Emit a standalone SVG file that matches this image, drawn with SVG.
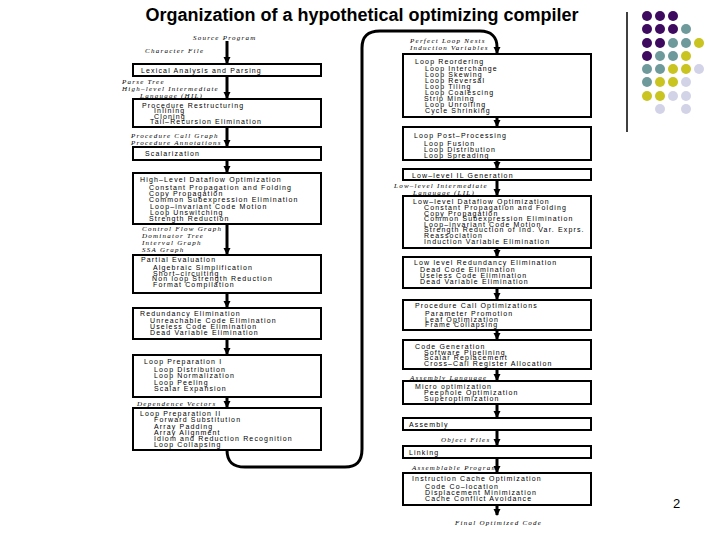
<svg xmlns="http://www.w3.org/2000/svg" width="720" height="540" viewBox="0 0 720 540">
<style>
.bx{fill:#fff;stroke:#000;stroke-width:2}
.t{font-family:"Liberation Sans",Arial,sans-serif;font-size:7px;letter-spacing:1.15px;fill:#000}
.i{font-family:"Liberation Serif","Times New Roman",serif;font-style:italic;font-size:7px;letter-spacing:1.25px;fill:#000}
.ln{fill:none;stroke:#000;stroke-width:3}
.title{font-family:"Liberation Sans",Arial,sans-serif;font-size:18px;font-weight:bold;fill:#000}
.p{fill:#3d0a60}.g{fill:#6f9a9c}.y{fill:#c9c41f}.l{fill:#d3d3e8}
</style>
<defs>
<marker id="ah" markerUnits="userSpaceOnUse" markerWidth="8" markerHeight="8" refX="6" refY="3.5" orient="auto">
<path d="M0,0 L7,3.5 L0,7 z" fill="#000"/>
</marker>
</defs>
<rect width="720" height="540" fill="#fff"/>
<text class="title" x="362" y="21" text-anchor="middle">Organization of a hypothetical optimizing compiler</text>

<g id="decor">
<line x1="627" y1="12" x2="627" y2="132" stroke="#000" stroke-width="1.5"/>
<circle class="p" cx="647" cy="16" r="5"/><circle class="p" cx="660" cy="16" r="5"/><circle class="p" cx="673" cy="16" r="5"/>
<circle class="p" cx="647" cy="29" r="5"/><circle class="p" cx="660" cy="29" r="5"/><circle class="p" cx="673" cy="29" r="5"/><circle class="g" cx="686" cy="29" r="5"/>
<circle class="p" cx="647" cy="43" r="5"/><circle class="p" cx="660" cy="43" r="5"/><circle class="g" cx="673" cy="43" r="5"/><circle class="g" cx="686" cy="43" r="5"/><circle class="y" cx="699" cy="43" r="5"/>
<circle class="p" cx="647" cy="56" r="5"/><circle class="g" cx="660" cy="56" r="5"/><circle class="g" cx="673" cy="56" r="5"/><circle class="y" cx="686" cy="56" r="5"/>
<circle class="g" cx="647" cy="69" r="5"/><circle class="g" cx="660" cy="69" r="5"/><circle class="y" cx="673" cy="69" r="5"/><circle class="y" cx="686" cy="69" r="5"/><circle class="l" cx="699" cy="69" r="5"/>
<circle class="g" cx="647" cy="82" r="5"/><circle class="y" cx="660" cy="82" r="5"/><circle class="y" cx="673" cy="82" r="5"/><circle class="l" cx="686" cy="82" r="5"/>
<circle class="y" cx="647" cy="96" r="5"/><circle class="y" cx="660" cy="96" r="5"/><circle class="l" cx="673" cy="96" r="5"/><circle class="l" cx="686" cy="96" r="5"/>
<circle class="l" cx="660" cy="109" r="5"/><circle class="l" cx="686" cy="109" r="5"/>
</g>

<g id="connectors">
<line class="ln" x1="227" y1="41" x2="227" y2="63" marker-end="url(#ah)"/>
<line class="ln" x1="227" y1="76" x2="227" y2="98" marker-end="url(#ah)"/>
<line class="ln" x1="227" y1="127" x2="227" y2="146" marker-end="url(#ah)"/>
<line class="ln" x1="227" y1="160" x2="227" y2="172" marker-end="url(#ah)"/>
<line class="ln" x1="227" y1="224" x2="227" y2="254" marker-end="url(#ah)"/>
<line class="ln" x1="227" y1="293" x2="227" y2="307" marker-end="url(#ah)"/>
<line class="ln" x1="227" y1="339" x2="227" y2="354" marker-end="url(#ah)"/>
<line class="ln" x1="227" y1="397" x2="227" y2="407" marker-end="url(#ah)"/>
<path class="ln" d="M227,450 C227,462 233,467 245,467 L345,467 C357,467 362,461 362,449 L362,48 C362,37 367,31 380,31 L480,31 C491,31 497,37 497,47 L497,53" marker-end="url(#ah)"/>
<line class="ln" x1="497" y1="117" x2="497" y2="126" marker-end="url(#ah)"/>
<line class="ln" x1="497" y1="160" x2="497" y2="168" marker-end="url(#ah)"/>
<line class="ln" x1="497" y1="180" x2="497" y2="195" marker-end="url(#ah)"/>
<line class="ln" x1="497" y1="248" x2="497" y2="256" marker-end="url(#ah)"/>
<line class="ln" x1="497" y1="288" x2="497" y2="299" marker-end="url(#ah)"/>
<line class="ln" x1="497" y1="330" x2="497" y2="339" marker-end="url(#ah)"/>
<line class="ln" x1="497" y1="369" x2="497" y2="380" marker-end="url(#ah)"/>
<line class="ln" x1="497" y1="404" x2="497" y2="417" marker-end="url(#ah)"/>
<line class="ln" x1="497" y1="430" x2="497" y2="445" marker-end="url(#ah)"/>
<line class="ln" x1="497" y1="458" x2="497" y2="472" marker-end="url(#ah)"/>
<line class="ln" x1="497" y1="505" x2="497" y2="515" marker-end="url(#ah)"/>
</g>

<g id="labels">
<text class="i" x="193" y="40">Source Program</text>
<text class="i" x="145" y="53">Character File</text>
<text class="i" x="122" y="83.5">Parse Tree</text>
<text class="i" x="122" y="90.5">High–level Intermediate</text>
<text class="i" x="140" y="97.5">Language (HIL)</text>
<text class="i" x="131" y="137.5">Procedure Call Graph</text>
<text class="i" x="131" y="144.5">Procedure Annotations</text>
<text class="i" x="142" y="231">Control Flow Graph</text>
<text class="i" x="142" y="238">Dominator Tree</text>
<text class="i" x="142" y="245">Interval Graph</text>
<text class="i" x="142" y="252">SSA Graph</text>
<text class="i" x="137" y="405.5">Dependence Vectors</text>
<text class="i" x="410" y="42.5">Perfect Loop Nests</text>
<text class="i" x="410" y="49.5">Induction Variables</text>
<text class="i" x="394" y="188">Low–level Intermediate</text>
<text class="i" x="413" y="194.5">Language (LIL)</text>
<text class="i" x="410" y="380">Assembly Language</text>
<text class="i" x="441" y="441.5">Object Files</text>
<text class="i" x="412" y="470">Assemblable Program</text>
<text class="i" x="455" y="525">Final Optimized Code</text>
</g>

<g id="lexical">
<rect class="bx" x="133" y="64" width="188" height="12"/>
<text class="t" x="141" y="73">Lexical Analysis and Parsing</text>
</g>
<g id="proc-restructuring">
<rect class="bx" x="133" y="99" width="188" height="28"/>
<text class="t" x="142" y="107.5">Procedure Restructuring</text>
<text class="t" x="154" y="113">Inlining</text>
<text class="t" x="154" y="118.5">Cloning</text>
<text class="t" x="150" y="124">Tail–Recursion Elimination</text>
</g>
<g id="scalarization">
<rect class="bx" x="133" y="147" width="188" height="13"/>
<text class="t" x="145" y="156">Scalarization</text>
</g>
<g id="hl-dataflow">
<rect class="bx" x="133" y="173" width="188" height="51"/>
<text class="t" x="140" y="181.5">High–Level Dataflow Optimization</text>
<text class="t" x="149" y="189.5">Constant Propagation and Folding</text>
<text class="t" x="149" y="196">Copy Propagation</text>
<text class="t" x="149" y="202">Common Subexpression Elimination</text>
<text class="t" x="150" y="208.5">Loop–invariant Code Motion</text>
<text class="t" x="150" y="214.5">Loop Unswitching</text>
<text class="t" x="149" y="220.5">Strength Reduction</text>
</g>
<g id="partial-eval">
<rect class="bx" x="133" y="255" width="188" height="38"/>
<text class="t" x="141" y="262">Partial Evaluation</text>
<text class="t" x="153" y="270">Algebraic Simplification</text>
<text class="t" x="153" y="275.5">Short–circuiting</text>
<text class="t" x="152" y="281">Non loop Strength Reduction</text>
<text class="t" x="153" y="287">Format Compilation</text>
</g>
<g id="redundancy">
<rect class="bx" x="133" y="308" width="188" height="31"/>
<text class="t" x="140" y="316">Redundancy Elimination</text>
<text class="t" x="150" y="323">Unreachable Code Elimination</text>
<text class="t" x="150" y="329">Useless Code Elimination</text>
<text class="t" x="150" y="335">Dead Variable Elimination</text>
</g>
<g id="loop-prep-1">
<rect class="bx" x="133" y="355" width="188" height="42"/>
<text class="t" x="144" y="364">Loop Preparation I</text>
<text class="t" x="154" y="371.5">Loop Distribution</text>
<text class="t" x="154" y="378">Loop Normalization</text>
<text class="t" x="154" y="384.5">Loop Peeling</text>
<text class="t" x="154" y="391">Scalar Expansion</text>
</g>
<g id="loop-prep-2">
<rect class="bx" x="133" y="408" width="188" height="42"/>
<text class="t" x="140" y="415.5">Loop Preparation II</text>
<text class="t" x="154" y="422">Forward Substitution</text>
<text class="t" x="154" y="428.5">Array Padding</text>
<text class="t" x="154" y="434.5">Array Alignment</text>
<text class="t" x="154" y="440.5">Idiom and Reduction Recognition</text>
<text class="t" x="154" y="447">Loop Collapsing</text>
</g>

<g id="loop-reordering">
<rect class="bx" x="403" y="54" width="188" height="63"/>
<text class="t" x="415" y="63.5">Loop Reordering</text>
<text class="t" x="425" y="70.5">Loop Interchange</text>
<text class="t" x="425" y="76.5">Loop Skewing</text>
<text class="t" x="425" y="82.5">Loop Reversal</text>
<text class="t" x="425" y="88.5">Loop Tiling</text>
<text class="t" x="425" y="94.5">Loop Coalescing</text>
<text class="t" x="424" y="100.5">Strip Mining</text>
<text class="t" x="425" y="106.5">Loop Unrolling</text>
<text class="t" x="425" y="112.5">Cycle Shrinking</text>
</g>
<g id="loop-post">
<rect class="bx" x="403" y="127" width="188" height="33"/>
<text class="t" x="414" y="137.5">Loop Post–Processing</text>
<text class="t" x="424" y="145.5">Loop Fusion</text>
<text class="t" x="424" y="151.5">Loop Distribution</text>
<text class="t" x="424" y="157.5">Loop Spreading</text>
</g>
<g id="lil-gen">
<rect class="bx" x="403" y="169" width="188" height="11"/>
<text class="t" x="412" y="177.5">Low–level IL Generation</text>
</g>
<g id="ll-dataflow">
<rect class="bx" x="403" y="196" width="188" height="52"/>
<text class="t" x="413" y="203.5">Low–level Dataflow Optimization</text>
<text class="t" x="424" y="210">Constant Propagation and Folding</text>
<text class="t" x="424" y="215.5">Copy Propagation</text>
<text class="t" x="424" y="221">Common Subexpression Elimination</text>
<text class="t" x="424" y="226.5">Loop–invariant Code Motion</text>
<text class="t" x="424" y="232">Strength Reduction of Ind. Var. Exprs.</text>
<text class="t" x="424" y="237.5">Reassociation</text>
<text class="t" x="424" y="243.5">Induction Variable Elimination</text>
</g>
<g id="ll-redundancy">
<rect class="bx" x="403" y="257" width="188" height="31"/>
<text class="t" x="414" y="265">Low level Redundancy Elimination</text>
<text class="t" x="420" y="272">Dead Code Elimination</text>
<text class="t" x="420" y="278">Useless Code Elimination</text>
<text class="t" x="420" y="284">Dead Variable Elimination</text>
</g>
<g id="proc-call-opt">
<rect class="bx" x="403" y="300" width="188" height="30"/>
<text class="t" x="415" y="308">Procedure Call Optimizations</text>
<text class="t" x="425" y="316">Parameter Promotion</text>
<text class="t" x="425" y="321.5">Leaf Optimization</text>
<text class="t" x="425" y="327">Frame Collapsing</text>
</g>
<g id="code-gen">
<rect class="bx" x="403" y="340" width="188" height="29"/>
<text class="t" x="415" y="348.5">Code Generation</text>
<text class="t" x="424" y="354.5">Software Pipelining</text>
<text class="t" x="424" y="360">Scalar Replacement</text>
<text class="t" x="424" y="366">Cross–Call Register Allocation</text>
</g>
<g id="micro-opt">
<rect class="bx" x="403" y="381" width="188" height="23"/>
<text class="t" x="415" y="389">Micro optimization</text>
<text class="t" x="424" y="395">Peephole Optimization</text>
<text class="t" x="424" y="400.5">Superoptimization</text>
</g>
<g id="assembly">
<rect class="bx" x="403" y="418" width="188" height="12"/>
<text class="t" x="409" y="427">Assembly</text>
</g>
<g id="linking">
<rect class="bx" x="403" y="446" width="188" height="12"/>
<text class="t" x="409" y="455">Linking</text>
</g>
<g id="icache-opt">
<rect class="bx" x="403" y="473" width="188" height="32"/>
<text class="t" x="412" y="480.5">Instruction Cache Optimization</text>
<text class="t" x="425" y="488.5">Code Co–location</text>
<text class="t" x="425" y="494.5">Displacement Minimization</text>
<text class="t" x="425" y="500.5">Cache Conflict Avoidance</text>
</g>

<text x="673" y="508" style="font-family:'Liberation Sans',Arial,sans-serif;font-size:13px;fill:#000">2</text>
</svg>
